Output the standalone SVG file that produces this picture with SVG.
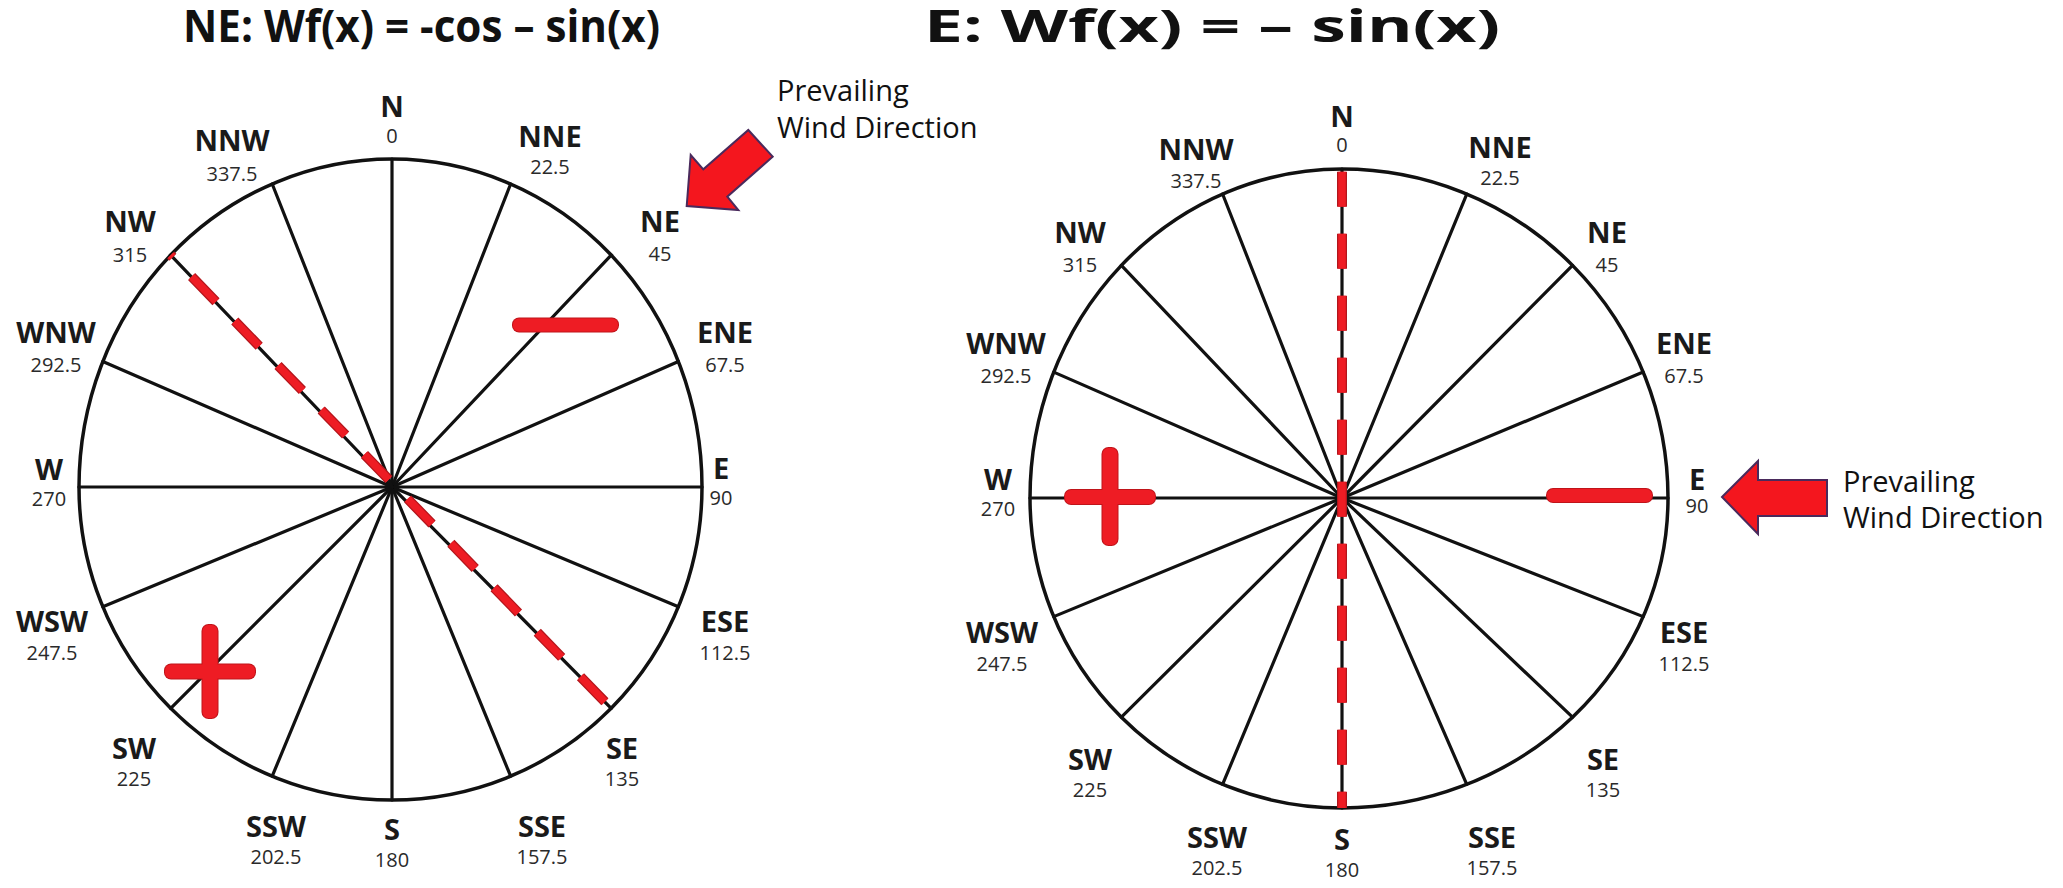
<svg xmlns="http://www.w3.org/2000/svg" width="2063" height="888" viewBox="0 0 2063 888">
<style>
.bg{fill:#ffffff}
.title{font-family:"Open Sans","Liberation Sans",sans-serif;font-weight:700;font-size:45px;fill:#111}
.dir{font-family:"Open Sans","Liberation Sans",sans-serif;font-weight:700;font-size:29px;fill:#1a1a1a;text-anchor:middle}
.deg{font-family:"Open Sans","Liberation Sans",sans-serif;font-size:20px;fill:#2a2a2a;text-anchor:middle}
.note{font-family:"Open Sans","Liberation Sans",sans-serif;font-size:29px;fill:#111}
.rim{fill:none;stroke:#111;stroke-width:3.5}
.spoke{stroke:#111;stroke-width:3.2;stroke-linecap:round}
.dashU{fill:none;stroke:#b3161c;stroke-width:10;stroke-dasharray:35 27}
.dashT{fill:none;stroke:#ee1c24;stroke-width:7.5;stroke-dasharray:35 27}
.markO{fill:#c0141a}
.markF{fill:#ee1c24}
.arrow{fill:#f4161e;stroke:#4a2a5c;stroke-width:2;stroke-linejoin:miter}
</style>
<rect class="bg" x="0" y="0" width="2063" height="888"/>

<g id="title-left"><text class="title" x="183" y="42" textLength="477" lengthAdjust="spacingAndGlyphs">NE: Wf(x) = -cos – sin(x)</text></g>
<g id="title-right"><text class="title" x="924" y="42" textLength="576" lengthAdjust="spacingAndGlyphs">E: Wf(x) = – sin(x)</text></g>

<!-- LEFT ROSE -->
<g id="rose-left">
  <path class="rim" d="M392,159 A310,328 0 0 1 702,487 A310,313 0 0 1 392,800 A313,313 0 0 1 79,487 A313,328 0 0 1 392,159 Z"/>
  <g id="spokes-left">
    <line class="spoke" x1="392" y1="487" x2="392" y2="159"/>
    <line class="spoke" x1="392" y1="487" x2="510.63" y2="183.97"/>
    <line class="spoke" x1="392" y1="487" x2="611.20" y2="255.07"/>
    <line class="spoke" x1="392" y1="487" x2="678.40" y2="361.48"/>
    <line class="spoke" x1="392" y1="487" x2="702" y2="487"/>
    <line class="spoke" x1="392" y1="487" x2="678.40" y2="606.78"/>
    <line class="spoke" x1="392" y1="487" x2="611.20" y2="708.32"/>
    <line class="spoke" x1="392" y1="487" x2="510.63" y2="776.17"/>
    <line class="spoke" x1="392" y1="487" x2="392" y2="800"/>
    <line class="spoke" x1="392" y1="487" x2="272.22" y2="776.17"/>
    <line class="spoke" x1="392" y1="487" x2="170.68" y2="708.32"/>
    <line class="spoke" x1="392" y1="487" x2="102.83" y2="606.78"/>
    <line class="spoke" x1="392" y1="487" x2="79" y2="487"/>
    <line class="spoke" x1="392" y1="487" x2="102.83" y2="361.48"/>
    <line class="spoke" x1="392" y1="487" x2="170.68" y2="255.07"/>
    <line class="spoke" x1="392" y1="487" x2="272.22" y2="183.97"/>
  </g>
  <g id="dash-left">
    <line class="dashU" x1="170.68" y1="255.07" x2="611.20" y2="708.32" stroke-dashoffset="32"/>
    <line class="dashT" x1="170.68" y1="255.07" x2="611.20" y2="708.32" stroke-dashoffset="32"/>
  </g>
  <g id="minus-left">
    <rect class="markO" x="512" y="317.5" width="107" height="15" rx="7"/>
    <rect class="markF" x="513" y="318.5" width="105" height="13" rx="6"/>
  </g>
  <g id="plus-left">
    <rect class="markO" x="164" y="663.5" width="92" height="16" rx="7"/>
    <rect class="markO" x="201.5" y="624" width="17" height="95" rx="7"/>
    <rect class="markF" x="165" y="664.5" width="90" height="14" rx="6"/>
    <rect class="markF" x="202.5" y="625" width="15" height="93" rx="6"/>
  </g>
  <g id="lbl-left-N"><text class="dir" x="392" y="117">N</text><text class="deg" x="392" y="143">0</text></g>
  <g id="lbl-left-NNE"><text class="dir" x="550" y="147">NNE</text><text class="deg" x="550" y="174">22.5</text></g>
  <g id="lbl-left-NE"><text class="dir" x="660" y="232">NE</text><text class="deg" x="660" y="261">45</text></g>
  <g id="lbl-left-ENE"><text class="dir" x="725" y="343">ENE</text><text class="deg" x="725" y="372">67.5</text></g>
  <g id="lbl-left-E"><text class="dir" x="721" y="479">E</text><text class="deg" x="721" y="505">90</text></g>
  <g id="lbl-left-ESE"><text class="dir" x="725" y="632">ESE</text><text class="deg" x="725" y="660">112.5</text></g>
  <g id="lbl-left-SE"><text class="dir" x="622" y="759">SE</text><text class="deg" x="622" y="786">135</text></g>
  <g id="lbl-left-SSE"><text class="dir" x="542" y="837">SSE</text><text class="deg" x="542" y="864">157.5</text></g>
  <g id="lbl-left-S"><text class="dir" x="392" y="840">S</text><text class="deg" x="392" y="867">180</text></g>
  <g id="lbl-left-SSW"><text class="dir" x="276" y="837">SSW</text><text class="deg" x="276" y="864">202.5</text></g>
  <g id="lbl-left-SW"><text class="dir" x="134" y="759">SW</text><text class="deg" x="134" y="786">225</text></g>
  <g id="lbl-left-WSW"><text class="dir" x="52" y="632">WSW</text><text class="deg" x="52" y="660">247.5</text></g>
  <g id="lbl-left-W"><text class="dir" x="49" y="480">W</text><text class="deg" x="49" y="506">270</text></g>
  <g id="lbl-left-WNW"><text class="dir" x="56" y="343">WNW</text><text class="deg" x="56" y="372">292.5</text></g>
  <g id="lbl-left-NW"><text class="dir" x="130" y="232">NW</text><text class="deg" x="130" y="262">315</text></g>
  <g id="lbl-left-NNW"><text class="dir" x="232" y="151">NNW</text><text class="deg" x="232" y="181">337.5</text></g>
</g>

<g id="arrow-left">
  <polygon class="arrow" points="686.7,206 690.7,155 703.3,169.3 748.3,130 772.7,156.7 727.3,196.7 738.3,210"/>
  <text class="note" x="777" y="101">Prevailing</text>
  <text class="note" x="777" y="138">Wind Direction</text>
</g>

<!-- RIGHT ROSE -->
<g id="rose-right">
  <path class="rim" d="M1342,169 A326,329 0 0 1 1668,498 A326,310 0 0 1 1342,808 A312,310 0 0 1 1030,498 A312,329 0 0 1 1342,169 Z"/>
  <g id="spokes-right">
    <line class="spoke" x1="1342" y1="498" x2="1342" y2="169"/>
    <line class="spoke" x1="1342" y1="498" x2="1466.75" y2="194.04"/>
    <line class="spoke" x1="1342" y1="498" x2="1572.52" y2="265.36"/>
    <line class="spoke" x1="1342" y1="498" x2="1643.18" y2="372.10"/>
    <line class="spoke" x1="1342" y1="498" x2="1668" y2="498"/>
    <line class="spoke" x1="1342" y1="498" x2="1643.18" y2="616.63"/>
    <line class="spoke" x1="1342" y1="498" x2="1572.52" y2="717.20"/>
    <line class="spoke" x1="1342" y1="498" x2="1466.75" y2="784.40"/>
    <line class="spoke" x1="1342" y1="498" x2="1342" y2="808"/>
    <line class="spoke" x1="1342" y1="498" x2="1222.60" y2="784.40"/>
    <line class="spoke" x1="1342" y1="498" x2="1121.38" y2="717.20"/>
    <line class="spoke" x1="1342" y1="498" x2="1053.75" y2="616.63"/>
    <line class="spoke" x1="1342" y1="498" x2="1030" y2="498"/>
    <line class="spoke" x1="1342" y1="498" x2="1053.75" y2="372.10"/>
    <line class="spoke" x1="1342" y1="498" x2="1121.38" y2="265.36"/>
    <line class="spoke" x1="1342" y1="498" x2="1222.60" y2="194.04"/>
  </g>
  <g id="dash-right">
    <line class="dashU" x1="1342" y1="171.7" x2="1342" y2="808"/>
    <line class="dashT" x1="1342" y1="171.7" x2="1342" y2="808"/>
  </g>
  <g id="minus-right">
    <rect class="markO" x="1546" y="488" width="107" height="15" rx="7"/>
    <rect class="markF" x="1547" y="489" width="105" height="13" rx="6"/>
  </g>
  <g id="plus-right">
    <rect class="markO" x="1064" y="489" width="92" height="16" rx="7"/>
    <rect class="markO" x="1101.5" y="447" width="17" height="99" rx="7"/>
    <rect class="markF" x="1065" y="490" width="90" height="14" rx="6"/>
    <rect class="markF" x="1102.5" y="448" width="15" height="97" rx="6"/>
  </g>
  <g id="lbl-right-N"><text class="dir" x="1342" y="127">N</text><text class="deg" x="1342" y="152">0</text></g>
  <g id="lbl-right-NNE"><text class="dir" x="1500" y="158">NNE</text><text class="deg" x="1500" y="185">22.5</text></g>
  <g id="lbl-right-NE"><text class="dir" x="1607" y="243">NE</text><text class="deg" x="1607" y="272">45</text></g>
  <g id="lbl-right-ENE"><text class="dir" x="1684" y="354">ENE</text><text class="deg" x="1684" y="383">67.5</text></g>
  <g id="lbl-right-E"><text class="dir" x="1697" y="490">E</text><text class="deg" x="1697" y="513">90</text></g>
  <g id="lbl-right-ESE"><text class="dir" x="1684" y="643">ESE</text><text class="deg" x="1684" y="671">112.5</text></g>
  <g id="lbl-right-SE"><text class="dir" x="1603" y="770">SE</text><text class="deg" x="1603" y="797">135</text></g>
  <g id="lbl-right-SSE"><text class="dir" x="1492" y="848">SSE</text><text class="deg" x="1492" y="875">157.5</text></g>
  <g id="lbl-right-S"><text class="dir" x="1342" y="850">S</text><text class="deg" x="1342" y="877">180</text></g>
  <g id="lbl-right-SSW"><text class="dir" x="1217" y="848">SSW</text><text class="deg" x="1217" y="875">202.5</text></g>
  <g id="lbl-right-SW"><text class="dir" x="1090" y="770">SW</text><text class="deg" x="1090" y="797">225</text></g>
  <g id="lbl-right-WSW"><text class="dir" x="1002" y="643">WSW</text><text class="deg" x="1002" y="671">247.5</text></g>
  <g id="lbl-right-W"><text class="dir" x="998" y="490">W</text><text class="deg" x="998" y="516">270</text></g>
  <g id="lbl-right-WNW"><text class="dir" x="1006" y="354">WNW</text><text class="deg" x="1006" y="383">292.5</text></g>
  <g id="lbl-right-NW"><text class="dir" x="1080" y="243">NW</text><text class="deg" x="1080" y="272">315</text></g>
  <g id="lbl-right-NNW"><text class="dir" x="1196" y="160">NNW</text><text class="deg" x="1196" y="188">337.5</text></g>
</g>

<g id="arrow-right">
  <polygon class="arrow" points="1722,497 1758,461 1758,480 1827,480 1827,516 1758,516 1758,534"/>
  <text class="note" x="1843" y="492">Prevailing</text>
  <text class="note" x="1843" y="528">Wind Direction</text>
</g>
</svg>
